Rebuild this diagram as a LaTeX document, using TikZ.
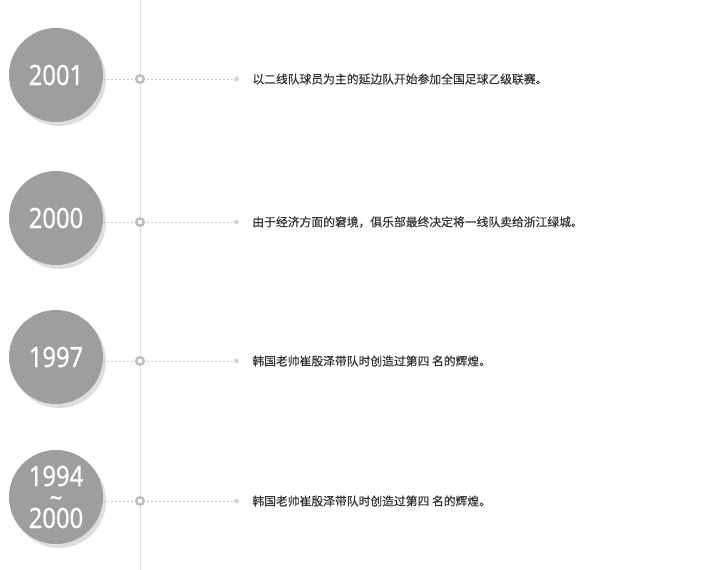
\documentclass[tikz,border=0pt]{standalone}
\usepackage{fontspec}
\newfontfamily\yearfont[FakeStretch=0.85,FakeBold=0.6]{Noto Sans}
\newfontfamily\cjk[FakeBold=0.4]{Noto Sans CJK SC}
\usetikzlibrary{positioning,shadows}
\definecolor{yeargray}{HTML}{9E9E9E}
\definecolor{shadowgray}{HTML}{DEDEDE}
\definecolor{axisgray}{HTML}{DDDDDD}
\definecolor{ringgray}{HTML}{BDBDBD}
\definecolor{dotgray}{HTML}{D6D6D6}
\definecolor{dashgray}{HTML}{CCCCCC}
\definecolor{textgray}{HTML}{333333}

\begin{document}
\begin{tikzpicture}[
  x=1pt, y=-1pt,
  yearblock/.style={
    circle,
    fill=yeargray,
    inner sep=0pt,
    minimum size=94pt,
    text=white,
    align=center,
    font=\yearfont\fontsize{28}{21}\selectfont,
    drop shadow={shadow xshift=3pt, shadow yshift=-4pt,
      fill=shadowgray, opacity=1}
  },
  ringmark/.style={
    circle,
    draw=ringgray,
    line width=2.5pt,
    fill=white,
    inner sep=0pt,
    minimum size=7.5pt
  },
  endmark/.style={
    circle,
    fill=dotgray,
    inner sep=0pt,
    minimum size=5pt
  },
  eventtext/.style={
    inner sep=0pt,
    anchor=west,
    text=textgray,
    font=\cjk\fontsize{11.8}{14}\selectfont
  },
  dotline/.style={
    draw=dashgray,
    line width=0.8pt,
    dash pattern=on 2pt off 2pt
  },
  axisline/.style={
    draw=axisgray,
    line width=1pt
  }]
  \useasboundingbox (0,0) rectangle (720,570);
  \coordinate (axistop) at (140,0);
  \coordinate (axisbottom) at (140,570);
  \draw[axisline] (axistop) -- (axisbottom);

  \node[yearblock] (year2001) at (56,75) {2001};
  \node[yearblock] (year2000) at (56,218) {2000};
  \node[yearblock] (year1997) at (56,357) {1997};
  \node[yearblock] (year1994) at (56,497) {1994\\{\fontsize{26}{21}\selectfont \textasciitilde}\\2000};

  \node[endmark] (dot2001) at (236.5,79) {};
  \node[endmark] (dot2000) at (236.5,222) {};
  \node[endmark] (dot1997) at (236.5,361) {};
  \node[endmark] (dot1994) at (236.5,501) {};

  \draw[dotline] (year2001.east |- dot2001) -- (dot2001);
  \draw[dotline] (year2000.east |- dot2000) -- (dot2000);
  \draw[dotline] (year1997.east |- dot1997) -- (dot1997);
  \draw[dotline] (year1994.east |- dot1994) -- (dot1994);

  \node[ringmark] (ring2001) at (140,79) {};
  \node[ringmark] (ring2000) at (140,222) {};
  \node[ringmark] (ring1997) at (140,361) {};
  \node[ringmark] (ring1994) at (140,501) {};

  \node[eventtext, right=13pt of dot2001] (event2001) {以二线队球员为主的延边队开始参加全国足球乙级联赛。};
  \node[eventtext, right=13pt of dot2000] (event2000) {由于经济方面的窘境，俱乐部最终决定将一线队卖给浙江绿城。};
  \node[eventtext, right=13pt of dot1997] (event1997) {韩国老帅崔殷泽带队时创造过第四 名的辉煌。};
  \node[eventtext, right=13pt of dot1994] (event1994) {韩国老帅崔殷泽带队时创造过第四 名的辉煌。};
\end{tikzpicture}
\end{document}
